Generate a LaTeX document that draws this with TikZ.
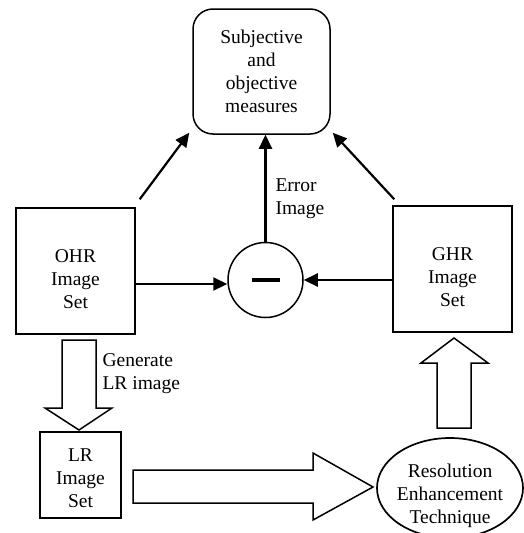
\documentclass[tikz,border=0pt]{standalone}
\usepackage{fontspec}
\setmainfont{Liberation Serif}
\usetikzlibrary{arrows.meta,shapes.geometric,calc}
\begin{document}
\begin{tikzpicture}[x=1pt,y=-1pt,
  every node/.style={font=\fontsize{19.5}{23}\selectfont, align=center},
  box/.style={draw, line width=1.5pt, inner sep=0pt},
  arr/.style={line width=2.2pt, -{Triangle[length=14pt,width=13pt]}},
  hollow/.style={draw, line width=1.5pt, fill=white, line join=miter}]
\useasboundingbox (0,0) rectangle (523,533);

% blocks (outlines)
\node[box, rounded corners=20pt, minimum width=137pt, minimum height=125pt] (sub) at (261.5,71.5) {};
\node[box, minimum width=119pt, minimum height=126pt] (ohr) at (75.5,271) {};
\node[box, minimum width=119pt, minimum height=126pt] (ghr) at (452.5,269) {};
\node[box, minimum width=81pt, minimum height=86pt] (lr) at (80.5,475) {};
\node[box, ellipse, minimum width=146pt, minimum height=100pt, line width=1.7pt] (ret) at (450,488) {};
\node[box, circle, minimum size=75pt] (circ) at (265.5,280) {};
\draw[line width=4.5pt] ($(circ.center)+(-14,0)$) -- ($(circ.center)+(14,0)$);

% block texts
\node (subt) at (sub.center) {Subjective\\and\\objective\\measures};
\node (ohrt) at ([yshift=-8pt]ohr.center) {OHR\\Image\\Set};
\node (ghrt) at ([yshift=-8pt]ghr.center) {GHR\\Image\\Set};
\node (lrt)  at ([yshift=-3pt]lr.center) {LR\\Image\\Set};
\node (rett) at ([yshift=-8pt]ret.center) {Resolution\\Enhancement\\Technique};

% labels
\node[anchor=west, align=left] (err) at (272,199) {Error\\Image};
\node[anchor=west, align=left] (gen) at (99,374) {Generate\\LR image};

% thin connectors
\coordinate (ohrout) at ([yshift=-13pt]ohr.east);
\coordinate (ghrout) at ([yshift=-11pt]ghr.west);
\draw[arr] (ohrout) -- (ohrout -| circ.west);
\draw[arr] (ghrout) -- (ghrout -| circ.east);
\draw[arr] (circ.north) -- (circ.north |- sub.south);
\draw[arr] ([shift={(4,-8)}]ohr.north east) -- ([shift={(-3,-2)}]sub.south west);
\draw[arr] ([shift={(2,-6)}]ghr.north west) -- ([shift={(2,-2)}]sub.south east);

% hollow block arrows
\draw[hollow] (62,340) -- (96,340) -- (96,408) -- (112,408) -- (79,430) -- (45,408) -- (62,408) -- cycle;
\draw[hollow] (133,470) -- (313,470) -- (313,453) -- (373,487) -- (313,520) -- (313,503) -- (133,503) -- cycle;
\draw[hollow] (437,428) -- (437,363) -- (421,363) -- (454,338) -- (488,363) -- (471,363) -- (471,428) -- cycle;
\end{tikzpicture}
\end{document}
